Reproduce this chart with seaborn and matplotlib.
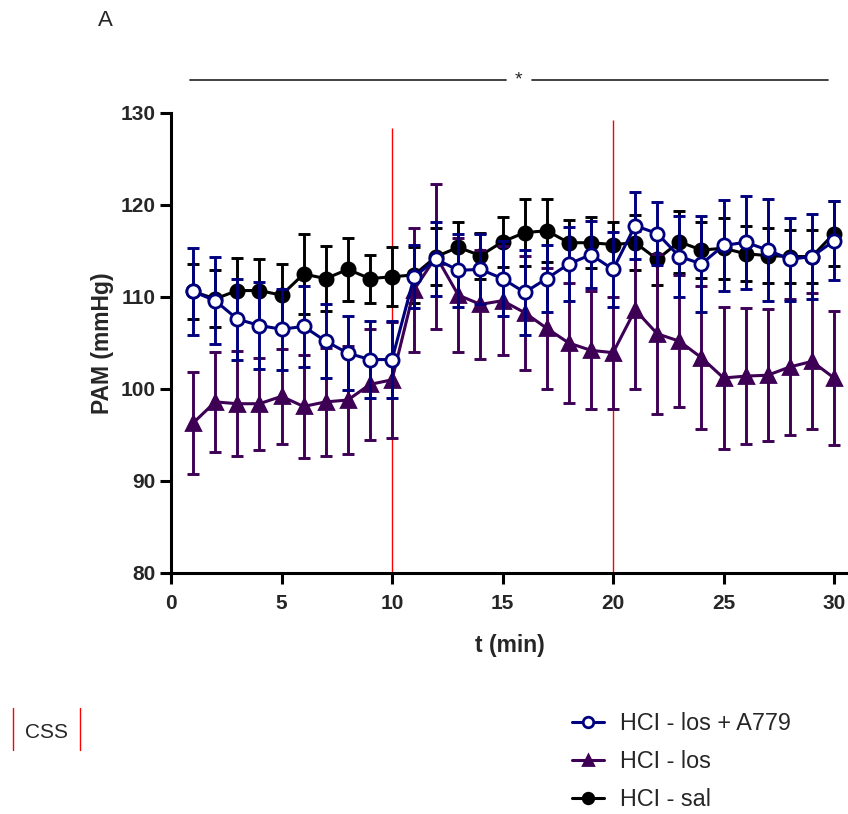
import matplotlib
matplotlib.use("Agg")
import matplotlib.pyplot as plt
import seaborn as sns
import pandas as pd
import numpy as np
from matplotlib.lines import Line2D

t_min = list(range(1, 31))

sal_mean = [110.6, 109.8, 110.7, 110.7, 110.2, 112.5, 112.0, 113.0, 112.0, 112.2,
            112.4, 114.4, 115.4, 114.5, 116.0, 117.0, 117.2, 115.9, 115.9, 115.7,
            115.9, 114.1, 116.0, 115.1, 115.3, 114.7, 114.5, 114.4, 114.4, 116.9]
sal_err = [3.0, 3.1, 3.5, 3.4, 3.4, 4.4, 3.5, 3.4, 2.6, 3.2,
           3.0, 3.1, 2.8, 2.5, 2.7, 3.6, 3.4, 2.5, 2.8, 2.5,
           3.0, 2.8, 3.4, 3.0, 3.3, 3.0, 3.0, 2.9, 2.9, 3.5]

los_mean = [96.3, 98.6, 98.4, 98.4, 99.2, 98.1, 98.6, 98.8, 100.5, 101.0,
            110.8, 114.4, 110.2, 109.2, 109.6, 108.3, 106.6, 105.0, 104.2, 103.95,
            108.6, 106.0, 105.2, 103.4, 101.2, 101.4, 101.5, 102.4, 103.0, 101.2]
los_err = [5.5, 5.4, 5.7, 5.0, 5.2, 5.6, 5.85, 5.9, 6.0, 6.3,
           6.75, 7.9, 6.2, 5.9, 5.9, 6.2, 6.6, 6.5, 6.4, 6.1,
           8.6, 8.7, 7.2, 7.8, 7.7, 7.4, 7.2, 7.4, 7.4, 7.25]

a779_mean = [110.6, 109.6, 107.6, 106.9, 106.5, 106.8, 105.2, 103.9, 103.2, 103.2,
             112.2, 114.1, 112.9, 113.0, 112.0, 110.5, 112.0, 113.6, 114.6, 113.0,
             117.75, 116.9, 114.4, 113.6, 115.6, 115.95, 115.1, 114.1, 114.4, 116.1]
a779_err = [4.7, 4.75, 4.4, 4.7, 4.4, 4.4, 4.0, 4.0, 4.2, 4.2,
            3.4, 4.0, 4.0, 3.8, 4.1, 4.6, 3.6, 4.0, 3.65, 4.1,
            3.65, 3.4, 4.35, 5.2, 4.95, 5.05, 5.5, 4.5, 4.65, 4.3]

series_names = ["HCI - los + A779", "HCI - los", "HCI - sal"]
yticks = [80, 90, 100, 110, 120, 130]
xticks = [0, 5, 10, 15, 20, 25, 30]
event_times = [10, 20]
event_tops = [128.4, 129.2]

BLUE = "#00007F"
PURPLE = "#3E0055"
BLACK = "#000000"

df = pd.concat([
    pd.DataFrame({"t": t_min, "PAM": a779_mean, "err": a779_err, "grupo": series_names[0]}),
    pd.DataFrame({"t": t_min, "PAM": los_mean, "err": los_err, "grupo": series_names[1]}),
    pd.DataFrame({"t": t_min, "PAM": sal_mean, "err": sal_err, "grupo": series_names[2]}),
])

sns.set_style("ticks")
plt.rcParams["font.family"] = ["Liberation Sans", "DejaVu Sans"]

fig = plt.figure(figsize=(8.48, 8.14), dpi=100)
ax = fig.add_axes([171/848, 1-573/814, 1-171/848, (573-113)/814])

styles = {
    series_names[2]: dict(color=BLACK, marker="o", mfc=BLACK, ms=9.5, z=3),
    series_names[1]: dict(color=PURPLE, marker="^", mfc=PURPLE, ms=9.5, z=4),
    series_names[0]: dict(color=BLUE, marker="o", mfc="white", ms=9.5, z=5),
}

handles = {}
for name in [series_names[2], series_names[1], series_names[0]]:
    st = styles[name]
    sub = df[df["grupo"] == name]
    ax.errorbar(sub["t"], sub["PAM"], yerr=sub["err"], fmt="none",
                ecolor=st["color"], elinewidth=2.1, capsize=4.5, capthick=2.1,
                zorder=st["z"])
    sns.lineplot(data=sub, x="t", y="PAM", ax=ax, color=st["color"],
                 linewidth=2.2, marker=st["marker"], markersize=st["ms"],
                 markerfacecolor=st["mfc"], markeredgecolor=st["color"],
                 markeredgewidth=2.0, zorder=st["z"] + 0.5, legend=False,
                 errorbar=None)
    handles[name] = Line2D([], [], color=st["color"], linewidth=2.2,
                           marker=st["marker"], markersize=st["ms"] * 0.8,
                           markerfacecolor=st["mfc"], markeredgecolor=st["color"],
                           markeredgewidth=2.0)

for tx, top in zip(event_times, event_tops):
    ax.vlines(tx, 80, top, color="red", linewidth=1.0, zorder=2)

ax.set_xlim(0, 30.63)
ax.set_ylim(80, 130)
ax.set_xticks(xticks)
ax.set_yticks(yticks)
ax.set_xticklabels([str(v) for v in xticks], fontsize=15, fontweight="bold")
ax.set_yticklabels([str(v) for v in yticks], fontsize=15, fontweight="bold")
ax.tick_params(axis="both", which="major", direction="out", length=8, width=2.2,
               color="black", bottom=True, left=True)
ax.tick_params(axis="x", pad=7)
ax.tick_params(axis="y", pad=3)
for s in ["top", "right"]:
    ax.spines[s].set_visible(False)
for s in ["left", "bottom"]:
    ax.spines[s].set_linewidth(2.2)
    ax.spines[s].set_color("black")
    ax.spines[s].set_capstyle("projecting")
ax.set_xlabel("t (min)", fontsize=16.5, fontweight="bold", labelpad=15)
ax.set_ylabel("PAM (mmHg)", fontsize=16.5, fontweight="bold", labelpad=5)

# significance line
ysig = 133.6
ax.plot([0.86, 15.16], [ysig, ysig], color="#333333", linewidth=1.3, clip_on=False)
ax.plot([16.33, 29.73], [ysig, ysig], color="#333333", linewidth=1.3, clip_on=False)
ax.text(15.7, ysig, "*", ha="center", va="center", fontsize=14, clip_on=False)

fig.text(105/848, 1-20/814, "A", ha="center", va="center", fontsize=16)

# CSS marker
fig.text(46/848, 1-733/814, "CSS", ha="center", va="center", fontsize=15)
for xp in [13, 80]:
    fig.add_artist(Line2D([xp/848, xp/848], [1-708/814, 1-750/814], color="red", linewidth=1.0))

fig.legend([handles[n] for n in series_names], series_names,
           loc="upper left", bbox_to_anchor=(572/848, 1-712/814),
           frameon=False, fontsize=16.8, handlelength=1.35, handletextpad=0.7,
           labelspacing=0.65, borderpad=0, borderaxespad=0)

fig.savefig("out.png", dpi=100)
